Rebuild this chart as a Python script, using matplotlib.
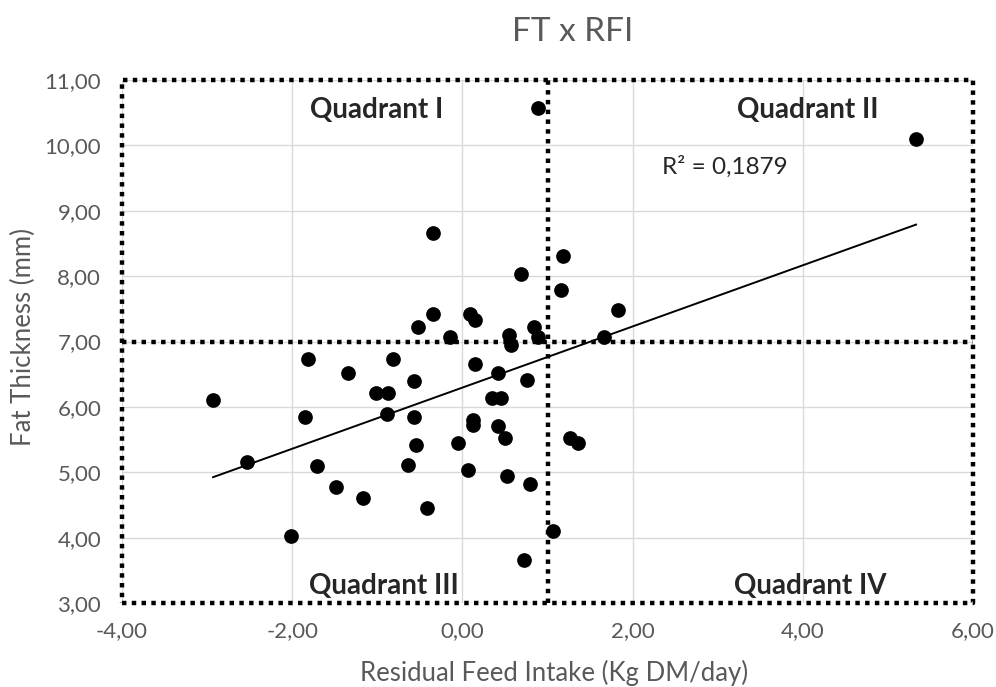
import numpy as np
import matplotlib
matplotlib.use("Agg")
import matplotlib.pyplot as plt
from matplotlib.ticker import FuncFormatter

# Data (RFI, Kg DM/day ; FT, mm)
rfi = [0.89, -0.35, 1.18, 0.69, 1.16, -0.35, -0.52, 0.09, 0.15, -0.15,
       0.55, 0.57, 0.84, 0.89, 5.33, 1.83, 1.66, -1.81, -0.82, -1.34,
       -0.57, -1.02, -0.87, -2.93, 0.15, 0.42, 0.76, 0.35, 0.45, -1.85,
       -0.89, -0.57, 0.12, 0.12, 0.42, 0.50, -0.54, -0.05, -2.53, -1.71,
       -0.64, 0.07, 0.52, 0.79, -1.49, -1.17, -0.42, -2.01, 1.06, 0.72,
       1.26, 1.36]
ft = [10.57, 8.66, 8.31, 8.03, 7.79, 7.42, 7.23, 7.42, 7.33, 7.07,
      7.10, 6.95, 7.23, 7.07, 10.09, 7.48, 7.07, 6.74, 6.74, 6.52,
      6.39, 6.22, 6.22, 6.10, 6.65, 6.52, 6.41, 6.13, 6.13, 5.84,
      5.90, 5.84, 5.80, 5.73, 5.71, 5.52, 5.42, 5.45, 5.16, 5.10,
      5.12, 5.03, 4.94, 4.82, 4.77, 4.61, 4.45, 4.03, 4.10, 3.66,
      5.52, 5.45]

quad_x = 1.0
quad_y = 7.0
quad_labels = ["Quadrant I", "Quadrant II", "Quadrant III", "Quadrant IV"]
r2_text = "R² = 0,1879"
title = "FT x RFI"
xlabel = "Residual Feed Intake (Kg DM/day)"
ylabel = "Fat Thickness (mm)"

plt.rcParams['font.family'] = ['Lato', 'DejaVu Sans']
gray = "#595959"

fig = plt.figure(figsize=(9.96, 6.87), dpi=100)
ax = fig.add_axes([0.1225, 0.122, 0.8545, 0.7616])

ax.set_xlim(-4, 6)
ax.set_ylim(3, 11)
ax.set_xticks(np.arange(-4, 6.01, 2))
ax.set_yticks(np.arange(3, 11.01, 1))
fmt = FuncFormatter(lambda v, p: f"{v:.2f}".replace(".", ","))
ax.xaxis.set_major_formatter(fmt)
ax.yaxis.set_major_formatter(fmt)
ax.grid(True, color="#d9d9d9", lw=1.0)
ax.set_axisbelow(True)
ax.tick_params(length=0, colors=gray, labelsize=16)
ax.tick_params(axis="y", pad=15)
ax.tick_params(axis="x", pad=13)
for s in ax.spines.values():
    s.set_visible(False)

dot = dict(color="black", lw=3.2, linestyle=(0, (1, 1.2)), dash_capstyle="butt",
           solid_capstyle="butt", clip_on=False, zorder=3)
# border box
ax.plot([-4, 6, 6, -4, -4], [3, 3, 11, 11, 3], **dot)
# quadrant lines
ax.axvline(quad_x, **dot)
ax.axhline(quad_y, **dot)

ax.scatter(rfi, ft, s=112, color="black", zorder=4, linewidths=0)

# linear trendline
xa = np.array(rfi); ya = np.array(ft)
b, a = np.polyfit(xa, ya, 1)
xs = np.array([xa.min(), xa.max()])
ax.plot(xs, a + b * xs, color="black", lw=1.4, zorder=5)

ax.text(2.35, 9.57, r2_text, fontsize=17.5, color="#262626", va="baseline", ha="left")

qfs = 20
qkw = dict(fontsize=qfs, fontweight="bold", color="#262626", ha="center", va="baseline")
ax.text(-1.01, 10.42, quad_labels[0], **qkw)
ax.text(4.06, 10.42, quad_labels[1], **qkw)
ax.text(-0.92, 3.145, quad_labels[2], **qkw)
ax.text(4.09, 3.145, quad_labels[3], **qkw)

fig.text(554.5 / 996, 1 - 681.5 / 687, xlabel, color=gray, fontsize=18.5,
         ha="center", va="baseline")
fig.text(23 / 996, 1 - 337.5 / 687, ylabel, color=gray, fontsize=18.5,
         ha="center", va="center", rotation=90)
fig.text(572.5 / 996, 1 - 41 / 687, title, color=gray, fontsize=24,
         ha="center", va="baseline")

fig.savefig("out.png", dpi=100)
